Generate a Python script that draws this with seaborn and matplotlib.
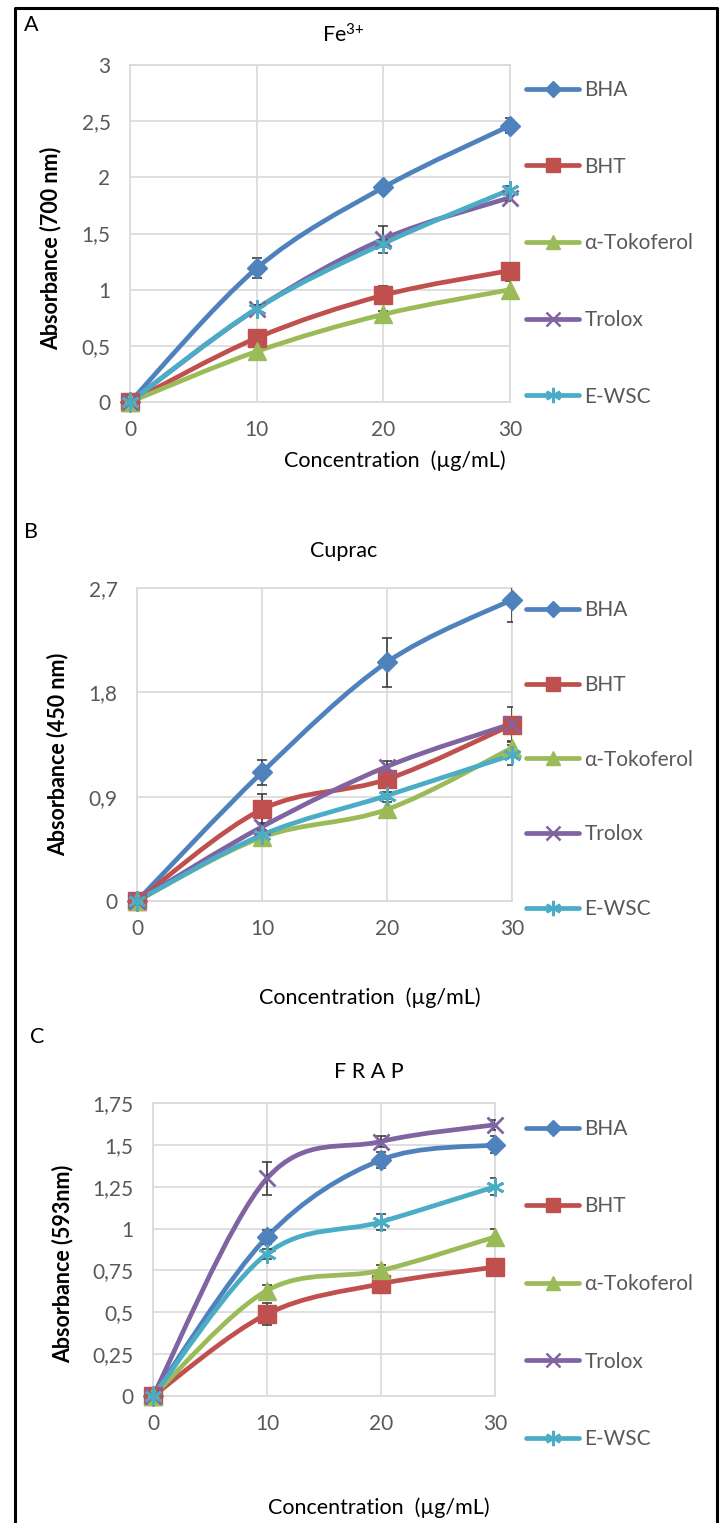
import numpy as np
import seaborn as sns
import matplotlib.pyplot as plt
from matplotlib.path import Path
from matplotlib.patches import PathPatch
from matplotlib.lines import Line2D
from matplotlib.ticker import FuncFormatter

# ---- data ----
conc = [0, 10, 20, 30]
series = ['BHA', 'BHT', 'α-Tokoferol', 'Trolox', 'E-WSC']

# A: Fe3+ (700 nm)
fe_bha = [0, 1.19, 1.91, 2.46]
fe_bht = [0, 0.57, 0.95, 1.17]
fe_toc = [0, 0.45, 0.78, 1.00]
fe_trolox = [0, 0.83, 1.45, 1.82]
fe_ewsc = [0, 0.83, 1.41, 1.89]
fe_bha_err = [0, 0.09, 0.02, 0.065]
fe_bht_err = [0, 0.03, 0.08, 0.07]
fe_toc_err = [0, 0.08, 0.03, 0.08]
fe_trolox_err = [0, 0.03, 0.12, 0.03]
fe_ewsc_err = [0, 0.03, 0.03, 0.03]

# B: Cuprac (450 nm)
cu_bha = [0, 1.11, 2.06, 2.60]
cu_bht = [0, 0.79, 1.05, 1.52]
cu_toc = [0, 0.55, 0.79, 1.32]
cu_trolox = [0, 0.64, 1.16, 1.53]
cu_ewsc = [0, 0.57, 0.91, 1.26]
cu_bha_err = [0, 0.11, 0.21, 0.19]
cu_bht_err = [0, 0.13, 0.05, 0.15]
cu_toc_err = [0, 0.03, 0.06, 0.06]
cu_trolox_err = [0, 0.03, 0.05, 0.03]
cu_ewsc_err = [0, 0.03, 0.03, 0.09]

# C: FRAP (593 nm)
fr_bha = [0, 0.95, 1.41, 1.50]
fr_bht = [0, 0.49, 0.67, 0.77]
fr_toc = [0, 0.63, 0.75, 0.95]
fr_trolox = [0, 1.30, 1.52, 1.62]
fr_ewsc = [0, 0.85, 1.04, 1.25]
fr_bha_err = [0, 0.04, 0.05, 0.05]
fr_bht_err = [0, 0.065, 0.02, 0.02]
fr_toc_err = [0, 0.03, 0.035, 0.05]
fr_trolox_err = [0, 0.10, 0.03, 0.03]
fr_ewsc_err = [0, 0.03, 0.05, 0.05]

colors = ['#4F81BD', '#C0504D', '#9BBB59', '#8064A2', '#4BACC6']
markers = ['D', 's', '^', 'x', (6, 2, 0)]
msizes = [10.5, 12.5, 12.5, 12, 13]
leg_msizes = [8, 10, 10, 10, 11]

sns.set_theme(style='white')
plt.rcParams['font.family'] = ['Lato', 'DejaVu Sans']
plt.rcParams['mathtext.default'] = 'regular'

W, H = 723, 1523
fig = plt.figure(figsize=(W / 100, H / 100), dpi=100)


def fx(px):
    return px / W


def fy(py):
    return 1 - py / H


def smooth_path(xs, ys):
    # Excel style smoothed line (Catmull-Rom as cubic Bezier)
    pts = np.column_stack([xs, ys]).astype(float)
    n = len(pts)
    verts = [pts[0]]
    codes = [Path.MOVETO]
    for i in range(n - 1):
        p0 = pts[max(i - 1, 0)]
        p1 = pts[i]
        p2 = pts[i + 1]
        p3 = pts[min(i + 2, n - 1)]
        verts += [p1 + (p2 - p0) / 6, p2 - (p3 - p1) / 6, p2]
        codes += [Path.CURVE4] * 3
    return Path(verts, codes)


def comma(v, pos):
    return ('%g' % v).replace('.', ',')


panels = [
    dict(vals=[fe_bha, fe_bht, fe_toc, fe_trolox, fe_ewsc],
         errs=[fe_bha_err, fe_bht_err, fe_toc_err, fe_trolox_err, fe_ewsc_err],
         box=(130, 65, 510, 402), ymax=3, yticks=[0, 0.5, 1, 1.5, 2, 2.5, 3],
         title='Fe$^{3{+}}$', title_xy=(343, 35), letter='A', letter_xy=(31, 25),
         ylabel='Absorbance (700 nm)', ylabel_xy=(51, 248),
         xlabel_xy=(395, 461), leg_top=89, leg_space=2.72),
    dict(vals=[cu_bha, cu_bht, cu_toc, cu_trolox, cu_ewsc],
         errs=[cu_bha_err, cu_bht_err, cu_toc_err, cu_trolox_err, cu_ewsc_err],
         box=(137, 588, 512, 901), ymax=2.7, yticks=[0, 0.9, 1.8, 2.7],
         title='Cuprac', title_xy=(344, 551), letter='B', letter_xy=(31, 532),
         ylabel='Absorbance (450 nm)', ylabel_xy=(58, 754),
         xlabel_xy=(370, 998), leg_top=609, leg_space=2.63),
    dict(vals=[fr_bha, fr_bht, fr_toc, fr_trolox, fr_ewsc],
         errs=[fr_bha_err, fr_bht_err, fr_toc_err, fr_trolox_err, fr_ewsc_err],
         box=(153, 1103, 495, 1396), ymax=1.75,
         yticks=[0, 0.25, 0.5, 0.75, 1, 1.25, 1.5, 1.75],
         title='F R A P', title_xy=(369, 1072), letter='C', letter_xy=(37, 1037),
         ylabel='Absorbance (593nm)', ylabel_xy=(63, 1264),
         xlabel_xy=(379, 1508), leg_top=1128, leg_space=2.76),
]

grid_c = '#D9D9D9'
tick_c = '#595959'

for p in panels:
    l, t, r, b = p['box']
    ax = fig.add_axes([fx(l), fy(b), fx(r) - fx(l), (b - t) / H])
    ax.set_xlim(0, 30)
    ax.set_ylim(0, p['ymax'])
    ax.set_xticks(conc)
    ax.set_yticks(p['yticks'])
    ax.yaxis.set_major_formatter(FuncFormatter(comma))
    ax.grid(True, color=grid_c, lw=1.2)
    for s in ax.spines.values():
        s.set_color(grid_c)
        s.set_linewidth(1.2)
    ax.tick_params(axis='both', length=0, labelsize=15, colors=tick_c)
    ax.tick_params(axis='y', pad=14)
    ax.tick_params(axis='x', pad=13)
    ax.set_xlabel('')
    ax.set_ylabel('')

    handles = []
    for i, name in enumerate(series):
        ys = p['vals'][i]
        ax.add_patch(PathPatch(smooth_path(conc, ys), facecolor='none',
                               edgecolor=colors[i], lw=3.4, zorder=2 + i * 0.1,
                               capstyle='round', clip_on=False))
        ax.errorbar(conc[1:], ys[1:], yerr=p['errs'][i][1:], fmt='none',
                    ecolor='#3F3F3F', elinewidth=1.2, capsize=3.5, capthick=1.2,
                    zorder=3)
        sns.lineplot(x=conc, y=ys, ax=ax, color=colors[i], linestyle='none',
                     marker=markers[i], markersize=msizes[i],
                     markeredgecolor=colors[i],
                     markeredgewidth=2 if i >= 3 else 1,
                     zorder=4 + i * 0.1, clip_on=False, legend=False)
        handles.append(Line2D([0], [0], color=colors[i], lw=3.4,
                              solid_capstyle='round', marker=markers[i],
                              markersize=leg_msizes[i],
                              markeredgecolor=colors[i],
                              markeredgewidth=1.8 if i >= 3 else 1))

    ax.legend(handles, series, loc='upper left',
              bbox_to_anchor=(fx(526), fy(p['leg_top'] - 9)),
              bbox_transform=fig.transFigure, frameon=False,
              borderaxespad=0, borderpad=0, handlelength=2.55,
              handletextpad=0.25, labelspacing=p['leg_space'], fontsize=15,
              labelcolor=tick_c)

    fig.text(fx(p['title_xy'][0]), fy(p['title_xy'][1]), p['title'],
             ha='center', va='center', fontsize=15.5, color='black')
    fig.text(fx(p['letter_xy'][0]), fy(p['letter_xy'][1]), p['letter'],
             ha='center', va='center', fontsize=15.5, color='black')
    fig.text(fx(p['ylabel_xy'][0]), fy(p['ylabel_xy'][1]), p['ylabel'],
             ha='center', va='center', rotation=90, fontsize=15.5,
             fontweight='bold', color='black')
    fig.text(fx(p['xlabel_xy'][0]), fy(p['xlabel_xy'][1]),
             'Concentration  (µg/mL)', ha='center', va='center',
             fontsize=15.5, color='black')

# outer frame (open at the bottom)
frame_x = [fx(15), fx(15), fx(717), fx(717)]
frame_y = [0, fy(8), fy(8), 0]
fig.add_artist(Line2D(frame_x, frame_y, color='black', lw=2.2,
                      transform=fig.transFigure))

fig.savefig('out.png', dpi=100)
